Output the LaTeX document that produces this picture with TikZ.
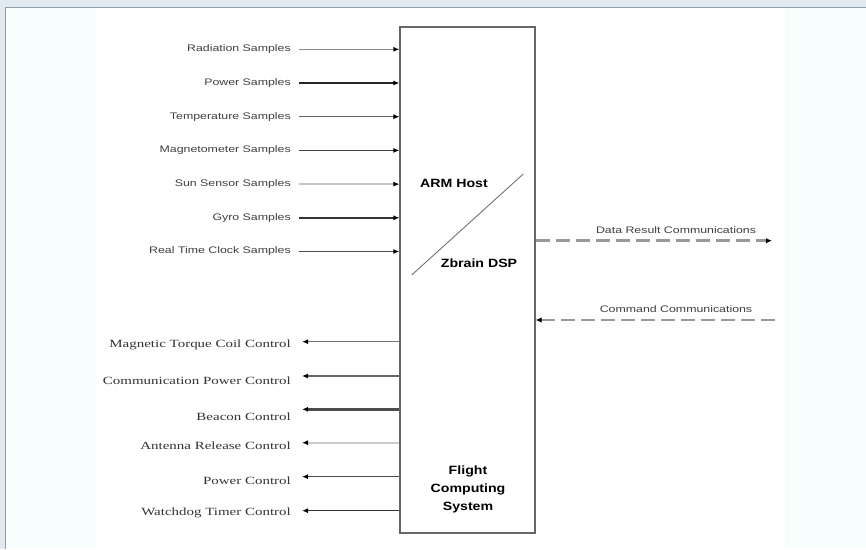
\documentclass[tikz,border=0pt]{standalone}
\usepackage{fontspec}
\setmainfont{Liberation Serif}
\setsansfont{Liberation Sans}
\newfontfamily\sampfont[FakeStretch=1.3]{Liberation Sans}
\newfontfamily\ctrlfont[FakeStretch=1.36]{Liberation Serif}
\newfontfamily\headfont[FakeStretch=1.18]{Liberation Sans}
\usepackage{tikz}
\usetikzlibrary{positioning,arrows.meta,calc}
\definecolor{pagebg}{HTML}{E3E9F1}
\definecolor{pageedge}{HTML}{8A9FB0}
\definecolor{tint}{HTML}{F7FEFE}

\begin{document}
\begin{tikzpicture}[
    x=1pt, y=-1pt,
    sysbox/.style={rectangle, draw=black!60, line width=1.2pt, minimum width=135pt,
                   minimum height=506pt, inner sep=0pt},
    samp/.style={anchor=east, inner sep=0pt, text=black!75,
                 font={\sampfont\fontsize{9.5}{11}\selectfont}},
    ctrl/.style={anchor=east, inner sep=0pt, text=black!80,
                 font={\ctrlfont\fontsize{11}{13}\selectfont}},
    head/.style={inner sep=0pt, align=center,
                 font={\headfont\bfseries\fontsize{12}{18}\selectfont}},
    arr/.style={-{Latex[length=6pt,width=5pt,color=black]}, line width=1.4pt},
    comm/.style={-{Latex[length=6pt,width=5.5pt,color=black]}, line width=2.5pt,
                 black!40, dash pattern=on 14pt off 6pt}
]
\useasboundingbox (0,0) rectangle (866,549);
% page frame
\fill[pagebg] (0,0) rectangle (866,549);
\fill[white] (5,7) rectangle (866,549);
\fill[tint] (6,8) rectangle (96,549);
\fill[tint] (785,8) rectangle (866,549);
\draw[pageedge, line width=1.5pt] (5.5,549) -- (5.5,7.5) -- (866,7.5);

% the computer
\node[sysbox] (fcs) at (467.5,280) {};
\node[head] (arm) at (454,183.3) {ARM Host};
\node[head] (dsp) at (479,263.3) {Zbrain DSP};
\node[head] (fcsname) at (468,489.5) {Flight\\Computing\\System};
\draw[black!55, line width=0.9pt] (411.7,275) -- (523.3,174);

% sample inputs
\node[samp] (rad)  at (291,49.3)  {Radiation Samples};
\node[samp] (pwr)  at (291,83)    {Power Samples};
\node[samp] (temp) at (291,116.7) {Temperature Samples};
\node[samp] (mag)  at (291,150.4) {Magnetometer Samples};
\node[samp] (sun)  at (291,184.1) {Sun Sensor Samples};
\node[samp] (gyro) at (291,217.8) {Gyro Samples};
\node[samp] (rtc)  at (291,251.5) {Real Time Clock Samples};

\draw[arr, black!45] ([xshift=8pt]rad.east)  -- (rad -| fcs.west);
\draw[arr, black!85] ([xshift=8pt]pwr.east)  -- (pwr -| fcs.west);
\draw[arr, black!60, line width=1pt] ([xshift=8pt]temp.east) -- (temp -| fcs.west);
\draw[arr, black!75] ([xshift=8pt]mag.east)  -- (mag -| fcs.west);
\draw[arr, black!22, line width=2pt] ([xshift=8pt]sun.east)  -- (sun -| fcs.west);
\draw[arr, black!80] ([xshift=8pt]gyro.east) -- (gyro -| fcs.west);
\draw[arr, black!70] ([xshift=8pt]rtc.east)  -- (rtc -| fcs.west);

% control outputs
\coordinate (mtcend)  at (302,341.7);
\coordinate (cpcend)  at (302,376);
\coordinate (bcnend)  at (302,409.3);
\coordinate (antend)  at (302,442.7);
\coordinate (pcend)   at (302,476.7);
\coordinate (wdtend)  at (302,510.7);

\node[ctrl] (mtc) at (291,344.5) {Magnetic Torque Coil Control};
\node[ctrl] (cpc) at (291,380.5) {Communication Power Control};
\node[ctrl] (bcn) at (291,416.5) {Beacon Control};
\node[ctrl] (ant) at (291,446)   {Antenna Release Control};
\node[ctrl] (pc)  at (291,481)   {Power Control};
\node[ctrl] (wdt) at (291,513)   {Watchdog Timer Control};

\draw[arr, black!55] (mtcend -| fcs.west) -- (mtcend);
\draw[arr, black!60] (cpcend -| fcs.west) -- (cpcend);
\draw[arr, black!70, line width=2.8pt] (bcnend -| fcs.west) -- (bcnend);
\draw[arr, black!20, line width=2pt] (antend -| fcs.west) -- (antend);
\draw[arr, black!70] (pcend -| fcs.west) -- (pcend);
\draw[arr, black!80] (wdtend -| fcs.west) -- (wdtend);

% communications
\coordinate (dataend) at (772,240.7);
\coordinate (cmdsrc)  at (775,320);
\draw[comm] (dataend -| fcs.east) -- (dataend);
\draw[comm] (cmdsrc) -- (cmdsrc -| fcs.east);
\node[samp, anchor=center] (datalbl) at (676,230) {Data Result Communications};
\node[samp, anchor=center] (cmdlbl)  at (676,309) {Command Communications};
\end{tikzpicture}
\end{document}
